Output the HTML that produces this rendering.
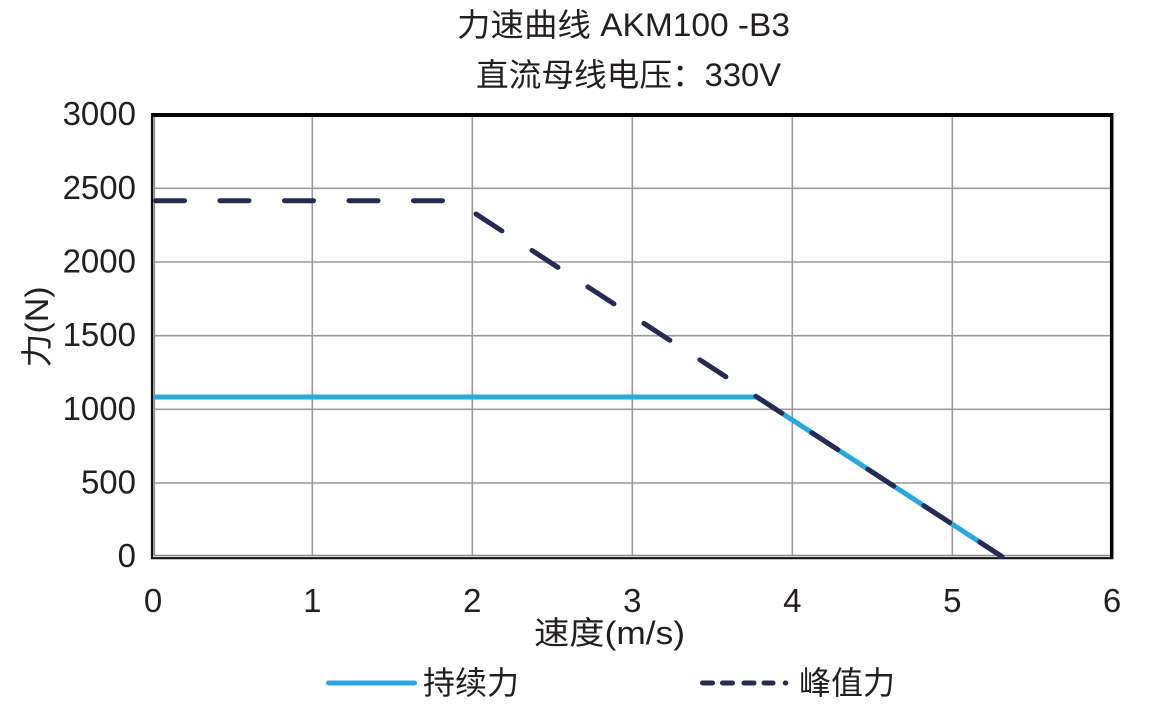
<!DOCTYPE html>
<html>
<head>
<meta charset="utf-8">
<style>
  html, body { margin: 0; padding: 0; background: #ffffff; }
  svg { display: block; }
  text { font-family: "Liberation Sans", "Noto Sans CJK SC", sans-serif; fill: #231f20; }
</style>
</head>
<body>
<svg width="1156" height="719" viewBox="0 0 1156 719" xmlns="http://www.w3.org/2000/svg">
  <rect x="0" y="0" width="1156" height="719" fill="#ffffff"/>

  <!-- Titles -->
  <text x="457" y="36" font-size="32" textLength="333" lengthAdjust="spacingAndGlyphs">力速曲线 AKM100 -B3</text>
  <text x="476" y="86" font-size="32" textLength="305" lengthAdjust="spacingAndGlyphs">直流母线电压：330V</text>

  <!-- Grid -->
  <g stroke="#9b9b9b" stroke-width="1.6">
    <line x1="312.3" y1="116" x2="312.3" y2="556"/>
    <line x1="472.3" y1="116" x2="472.3" y2="556"/>
    <line x1="632.3" y1="116" x2="632.3" y2="556"/>
    <line x1="792.3" y1="116" x2="792.3" y2="556"/>
    <line x1="952.3" y1="116" x2="952.3" y2="556"/>
    <line x1="154" y1="188.3" x2="1110" y2="188.3"/>
    <line x1="154" y1="262" x2="1110" y2="262"/>
    <line x1="154" y1="335.7" x2="1110" y2="335.7"/>
    <line x1="154" y1="409.3" x2="1110" y2="409.3"/>
    <line x1="154" y1="483" x2="1110" y2="483"/>
  </g>

  <!-- Frame -->
  <line x1="151" y1="115" x2="1113.5" y2="115" stroke="#000" stroke-width="4"/>
  <line x1="1111.7" y1="113" x2="1111.7" y2="559" stroke="#000" stroke-width="3.5"/>
  <line x1="152" y1="113" x2="152" y2="559" stroke="#111" stroke-width="2.2"/>
  <line x1="154.2" y1="117" x2="154.2" y2="556" stroke="#8a8a8a" stroke-width="1.8"/>
  <line x1="151" y1="558.2" x2="1113.5" y2="558.2" stroke="#111" stroke-width="2.2"/>
  <line x1="154" y1="555.6" x2="1110" y2="555.6" stroke="#8a8a8a" stroke-width="1.6"/>

  <!-- Continuous force (blue) -->
  <path d="M153,397 L757,397 L1002,556.6" fill="none" stroke="#27a9e0" stroke-width="5" stroke-linejoin="round"/>

  <!-- Peak force (dashed navy) -->
  <path d="M155.5,200.7 L472,200.7" fill="none" stroke="#272a52" stroke-width="5" stroke-linecap="round" stroke-dasharray="29 35.5"/>
  <path d="M476,214 L1002,556.6" fill="none" stroke="#272a52" stroke-width="5" stroke-linecap="round" stroke-dasharray="31 35.8"/>

  <!-- Y tick labels -->
  <g font-size="33" text-anchor="end">
    <text x="136" y="125">3000</text>
    <text x="136" y="198.8">2500</text>
    <text x="136" y="272.5">2000</text>
    <text x="136" y="346.2">1500</text>
    <text x="136" y="419.8">1000</text>
    <text x="136" y="493.5">500</text>
    <text x="136" y="567.1">0</text>
  </g>

  <!-- X tick labels -->
  <g font-size="33" text-anchor="middle">
    <text x="153" y="612">0</text>
    <text x="312.3" y="612">1</text>
    <text x="472.3" y="612">2</text>
    <text x="632.3" y="612">3</text>
    <text x="792.3" y="612">4</text>
    <text x="952.3" y="612">5</text>
    <text x="1112" y="612">6</text>
  </g>

  <!-- Axis titles -->
  <text x="534" y="644" font-size="32" textLength="151" lengthAdjust="spacingAndGlyphs">速度(m/s)</text>
  <text transform="translate(48,327) rotate(-90)" x="0" y="0" font-size="32" text-anchor="middle" textLength="81" lengthAdjust="spacingAndGlyphs">力(N)</text>

  <!-- Legend -->
  <line x1="328.5" y1="683" x2="414.5" y2="683" stroke="#27a9e0" stroke-width="5" stroke-linecap="round"/>
  <text x="423" y="694" font-size="32">持续力</text>

  <g stroke="#272a52" stroke-width="5" stroke-linecap="round">
    <line x1="702.5" y1="683" x2="712.5" y2="683"/>
    <line x1="722.5" y1="683" x2="732.5" y2="683"/>
    <line x1="744" y1="683" x2="754" y2="683"/>
    <line x1="764" y1="683" x2="773" y2="683"/>
    <line x1="785.3" y1="683" x2="785.8" y2="683"/>
  </g>
  <text x="799" y="694" font-size="32">峰值力</text>
</svg>
</body>
</html>
